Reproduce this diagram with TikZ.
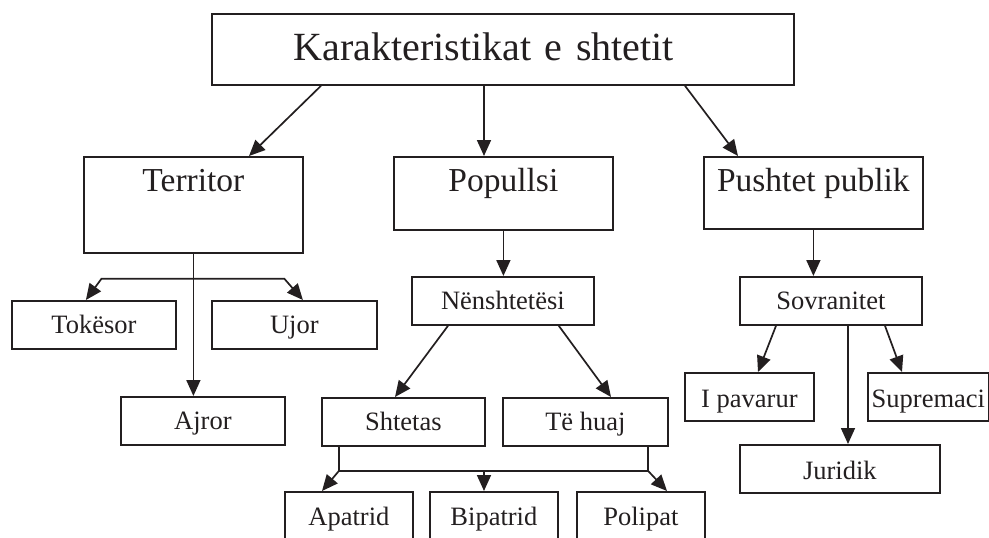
\documentclass[tikz,border=0pt]{standalone}
\usepackage{fontspec}
\setmainfont{Liberation Serif}
\usetikzlibrary{arrows.meta,calc}
\definecolor{ink}{RGB}{35,31,32}
\begin{document}
\begin{tikzpicture}[x=1pt,y=-1pt,
  box/.style={draw=ink, text=ink, line width=1.8pt, inner sep=0pt, anchor=north west},
  small/.style={box, font=\fontsize{26.5}{30}\selectfont, minimum height=48pt, text height=33pt, text depth=15pt},
  mid/.style={box, font=\fontsize{33.5}{38}\selectfont, text height=35pt},
  link/.style={draw=ink, line width=1.7pt},
  arr/.style={link, -{Triangle[length=16pt,width=14pt]}},
  arrs/.style={link, {Triangle[length=16pt,width=14pt]}-{Triangle[length=16pt,width=14pt]}},
]
\useasboundingbox (0,0) rectangle (989,538);

% title
\node[box, text width=582pt, minimum height=71pt, text height=47pt, text depth=24pt,
      font=\fontsize{40}{44}\selectfont, align=left] (top) at (211,13)
      {\hspace*{82pt}Karakteristikat e shtetit};

% second level
\node[mid, minimum width=219pt, minimum height=96pt, text depth=61pt] (ter) at (83,156) {Territor};
\node[mid, minimum width=219pt, minimum height=73pt, text depth=38pt] (pop) at (393,156) {Popullsi};
\node[mid, minimum width=219pt, minimum height=72pt, text depth=37pt] (push) at (703,156) {Pushtet publik};

% territory branch
\node[small, minimum width=164pt] (tok) at (11,300) {Tokësor};
\node[small, minimum width=165pt] (uj) at (211,300) {Ujor};
\node[small, minimum width=164pt] (ajr) at (120,396) {Ajror};

% population branch
\node[small, minimum width=182pt] (nen) at (411,276) {Nënshtetësi};
\node[small, minimum width=163pt] (sht) at (321,397) {Shtetas};
\node[small, minimum width=165pt] (the) at (502,397) {Të huaj};
\node[small, minimum width=128pt, minimum height=60pt, text height=34pt, text depth=26pt] (apa) at (284,491) {Apatrid};
\node[small, minimum width=128pt, minimum height=60pt, text height=34pt, text depth=26pt] (bip) at (429,491) {Bipatrid};
\node[small, minimum width=128pt, minimum height=60pt, text height=34pt, text depth=26pt] (pol) at (576,491) {Polipat};

% public power branch
\node[small, minimum width=182pt] (sov) at (739,276) {Sovranitet};
\node[small, minimum width=129pt, text height=35pt, text depth=13pt] (ipa) at (684,372) {I pavarur};
\node[small, minimum width=121pt, text height=35pt, text depth=13pt] (sup) at (867,372) {Supremaci};
\node[small, minimum width=200pt, text height=35pt, text depth=13pt] (jur) at (739,444) {Juridik};

% from the title
\draw[arr] ($(top.south west)+(110,0)$) -- ($(ter.north west)+(166,0)$);
\draw[arr] ($(top.south west)+(273,0)$) -- ($(pop.north west)+(91,0)$);
\draw[arr] ($(top.south west)+(474,0)$) -- ($(push.north west)+(35,0)$);

% territory
\draw[arr] (ter.south) -- (ter.south |- ajr.north);
\draw[arrs] ($(tok.north)+(-8,0)$) -- ($(ter.south)+(-92,25)$) -- ($(ter.south)+(91,25)$) -- ($(uj.north)+(8.5,0)$);

% population
\draw[arr] (pop.south) -- (pop.south |- nen.north);
\draw[arr] ($(nen.south west)+(37,0)$) -- ($(sht.north west)+(74,0)$);
\draw[arr] ($(nen.south east)+(-36,0)$) -- ($(the.north west)+(109,0)$);
\coordinate (jL) at ($(sht.south west)+(18,24)$);
\coordinate (jR) at ($(the.south west)+(146,24)$);
\coordinate (bipT) at ($(bip.north west)+(55,0)$);
\draw[link] ($(sht.south west)+(18,0)$) -- (jL) -- (jR) -- ($(the.south west)+(146,0)$);
\draw[arr] (jL) -- ($(apa.north west)+(38,0)$);
\draw[arr] (bipT |- jL) -- (bipT);
\draw[arr] (jR) -- ($(pol.north west)+(91,0)$);

% public power
\draw[arr] (push.south) -- (push.south |- sov.north);
\draw[arr] ($(sov.south west)+(37,0)$) -- ($(ipa.north west)+(74,0)$);
\draw[arr] ($(sov.south west)+(146,0)$) -- ($(sup.north west)+(35,0)$);
\coordinate (jurT) at ($(jur.north west)+(109,0)$);
\draw[arr] (jurT |- sov.south) -- (jurT);
\end{tikzpicture}
\end{document}
